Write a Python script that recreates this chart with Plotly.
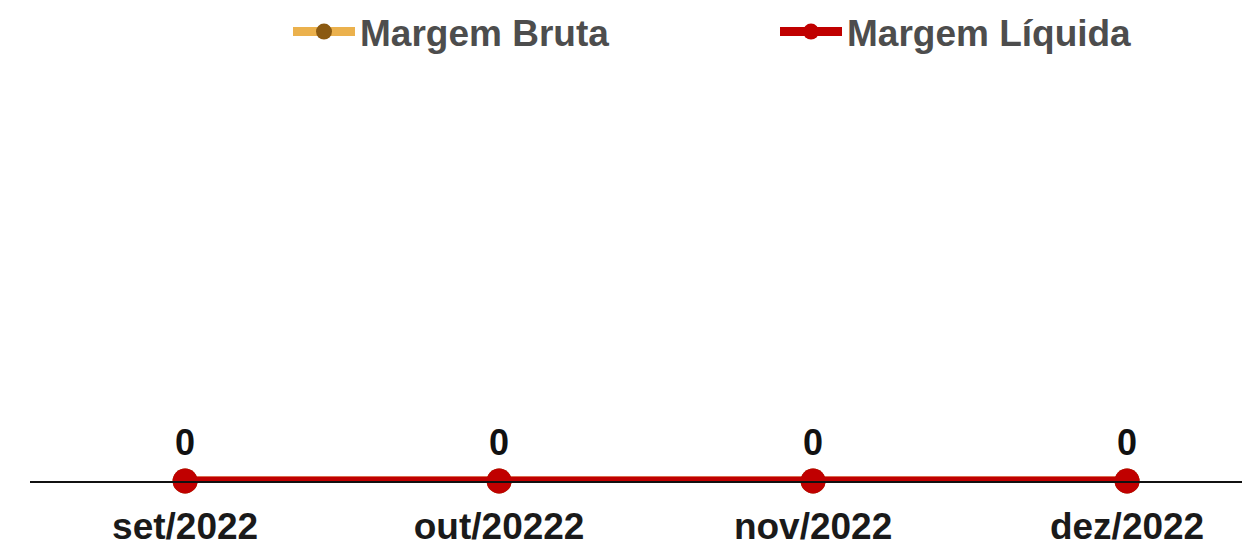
import plotly.graph_objects as go

categories = ["set/2022", "out/20222", "nov/2022", "dez/2022"]
margem_bruta = [0, 0, 0, 0]
margem_liquida = [0, 0, 0, 0]

FONT = "Liberation Sans, Arial, sans-serif"

fig = go.Figure()
fig.add_trace(go.Scatter(
    x=categories, y=margem_bruta, name="Margem Bruta", mode="lines+markers",
    line=dict(color="#EBB14D", width=9),
    marker=dict(color="#8B5A12", size=25),
    cliponaxis=False, hoverinfo="skip", legend="legend",
))
fig.add_trace(go.Scatter(
    x=categories, y=margem_liquida, name="Margem Líquida", mode="lines+markers+text",
    line=dict(color="#C00000", width=9),
    marker=dict(color="#C00000", size=25),
    text=[str(v) for v in margem_liquida], textposition="top center",
    textfont=dict(family=FONT, size=36, color="#111111", weight="bold"),
    cliponaxis=False, hoverinfo="skip", legend="legend2",
))

legend_font = dict(family=FONT, size=37, color="#4D4D4D", weight="bold")
PLOT_L, PLOT_B = 22, 68
PLOT_W, PLOT_H = 1250 - PLOT_L, 541 - PLOT_B

fig.update_layout(
    width=1250, height=541,
    margin=dict(l=PLOT_L, r=0, t=0, b=PLOT_B, autoexpand=False),
    paper_bgcolor="white", plot_bgcolor="white",
    showlegend=True,
    legend=dict(
        orientation="h", x=(280 - PLOT_L) / PLOT_W, xanchor="left",
        y=1 + 7 / PLOT_H, yanchor="top", itemwidth=62,
        font=legend_font, bgcolor="rgba(0,0,0,0)",
    ),
    legend2=dict(
        orientation="h", x=(767 - PLOT_L) / PLOT_W, xanchor="left",
        y=1 + 7 / PLOT_H, yanchor="top", itemwidth=62,
        font=legend_font, bgcolor="rgba(0,0,0,0)",
    ),
    xaxis=dict(
        type="category", range=[-0.494, 3.417], automargin=False,
        showgrid=False, zeroline=False,
        showline=True, linecolor="#111111", linewidth=2,
        ticks="", ticklabelstandoff=12,
        tickfont=dict(family=FONT, size=37, color="#1A1A1A", weight="bold"),
    ),
    yaxis=dict(range=[0, 1], visible=False, showgrid=False, zeroline=False,
               automargin=False),
)

fig.write_html("out.html")
